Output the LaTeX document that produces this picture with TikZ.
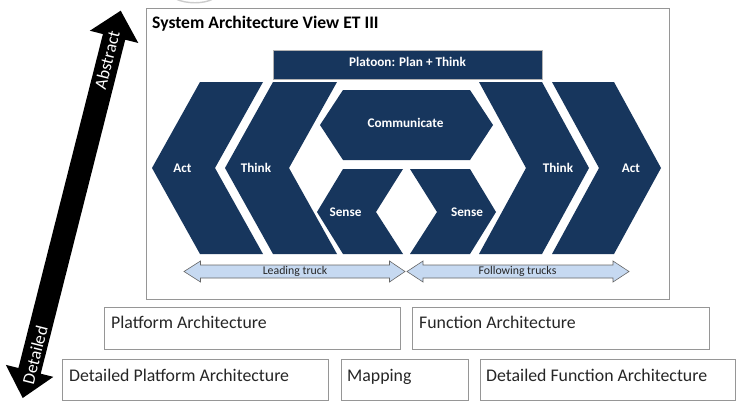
\documentclass[tikz,border=0pt]{standalone}
\usepackage{fontspec}
\setmainfont{Carlito}
\usetikzlibrary{calc}
\definecolor{navy}{RGB}{23,54,93}
\definecolor{lightblue}{RGB}{198,217,241}
\definecolor{frame}{RGB}{150,150,150}

\begin{document}
\begin{tikzpicture}[x=1pt,y=-1pt,
  blocklabel/.style={text=white,font=\fontsize{13.2}{15}\selectfont\bfseries,inner sep=0},
  archbox/.style={draw=frame,line width=0.9pt,fill=white,inner sep=0,anchor=north west},
  boxlabel/.style={anchor=base west,inner sep=0,font=\fontsize{17.8}{21}\selectfont,text=black!85},
  spanarrow/.style={draw=gray!80!black,fill=lightblue,line width=0.6pt,line join=miter},
  spanlabel/.style={inner sep=0,font=\fontsize{11.8}{13}\selectfont,text=black!85},
  axislabel/.style={inner sep=0,text=white,rotate=75.8,font=\fontsize{17.5}{20}\selectfont},
]
\useasboundingbox (0,0) rectangle (738,402);

% fragment of a grey ring at the upper edge
\draw[gray!40,line width=1.4pt] (176,-1) .. controls (186,4) and (204,4) .. (213,-1);

% abstraction axis: black double arrow
\coordinate (lowtip) at (22.7,398);
\coordinate (hightip) at (120.7,10.7);
\coordinate (lowbase) at ($(lowtip)!28pt!(hightip)$);
\coordinate (highbase) at ($(hightip)!27pt!(lowtip)$);
\fill[black]
  (lowtip)
  -- ($(lowbase)!24.5pt!-90:(hightip)$)
  -- ($(lowbase)!11.5pt!-90:(hightip)$)
  -- ($(highbase)!11.5pt!90:(lowtip)$)
  -- ($(highbase)!25pt!90:(lowtip)$)
  -- (hightip)
  -- ($(highbase)!25pt!-90:(lowtip)$)
  -- ($(highbase)!11.5pt!-90:(lowtip)$)
  -- ($(lowbase)!11.5pt!90:(hightip)$)
  -- ($(lowbase)!24.5pt!90:(hightip)$)
  -- cycle;
\node[axislabel] (abstract) at (107,60) {Abstract};
\node[axislabel] (detailed) at (35,355) {Detailed};

% system architecture view frame
\node[archbox,line width=1.3pt,minimum width=523,minimum height=291] (view) at (146,8) {};
\node[anchor=base west,inner sep=0,font=\fontsize{17.6}{20}\selectfont\bfseries] (title) at (152,28) {System Architecture View ET III};

% platoon bar
\node[fill=navy,draw=gray!60,line width=0.5pt,minimum width=269,minimum height=29,anchor=north west,inner sep=0] (platoon) at (273,50) {};
\node[blocklabel] (platoonlabel) at (407.5,61.5) {Platoon: Plan + Think};

% leading truck blocks
\fill[navy] (200,82) -- (263,82) -- (215,168) -- (263,254) -- (200,254) -- (152,168) -- cycle;
\fill[navy] (273,82) -- (337,82) -- (289,168) -- (337,254) -- (273,254) -- (225,168) -- cycle;
\fill[navy] (343,169) -- (403,169) -- (376,212) -- (403,254) -- (343,254) -- (317,212) -- cycle;

% shared communication block
\fill[navy] (343,90) -- (470,90) -- (493,125) -- (470,160) -- (343,160) -- (320,125) -- cycle;

% following truck blocks
\fill[navy] (410,169) -- (470,169) -- (496,212) -- (470,254) -- (410,254) -- (437,212) -- cycle;
\fill[navy] (479,82) -- (542,82) -- (589,168) -- (542,254) -- (479,254) -- (526,168) -- cycle;
\fill[navy] (552,82) -- (614,82) -- (661,168) -- (614,254) -- (552,254) -- (599,168) -- cycle;

\node[blocklabel] (actlead) at (182.5,168) {Act};
\node[blocklabel] (thinklead) at (256,168) {Think};
\node[blocklabel] (communicate) at (405.5,123) {Communicate};
\node[blocklabel] (senselead) at (345.5,212) {Sense};
\node[blocklabel] (sensefollow) at (467,212) {Sense};
\node[blocklabel] (thinkfollow) at (558,168) {Think};
\node[blocklabel] (actfollow) at (631,168) {Act};

% truck spans
\draw[spanarrow] (184,271.5) -- (200.5,261) -- (200.5,265) -- (389.5,265) -- (389.5,261) -- (405,271.5)
  -- (389.5,282) -- (389.5,278) -- (200.5,278) -- (200.5,282) -- cycle;
\draw[spanarrow] (407,271.5) -- (423,261) -- (423,265) -- (613,265) -- (613,261) -- (629,271.5)
  -- (613,282) -- (613,278) -- (423,278) -- (423,282) -- cycle;
\node[spanlabel] (leading) at (295,271) {Leading truck};
\node[spanlabel] (following) at (517.5,271) {Following trucks};

% architecture layers
\node[archbox,minimum width=296,minimum height=42] (platform) at (104,307) {};
\node[archbox,minimum width=297,minimum height=42] (function) at (412,307) {};
\node[archbox,minimum width=266,minimum height=41] (dplatform) at (62,359) {};
\node[archbox,minimum width=127,minimum height=41] (mapping) at (341,359) {};
\node[archbox,minimum width=255,minimum height=41] (dfunction) at (480,359) {};

\node[boxlabel] (platformlabel) at ($(platform.north west)+(7,21.5)$) {Platform Architecture};
\node[boxlabel] (functionlabel) at ($(function.north west)+(7,21.5)$) {Function Architecture};
\node[boxlabel] (dplatformlabel) at ($(dplatform.north west)+(7,22)$) {Detailed Platform Architecture};
\node[boxlabel] (mappinglabel) at ($(mapping.north west)+(6,22)$) {Mapping};
\node[boxlabel] (dfunctionlabel) at ($(dfunction.north west)+(6,22)$) {Detailed Function Architecture};
\end{tikzpicture}
\end{document}
